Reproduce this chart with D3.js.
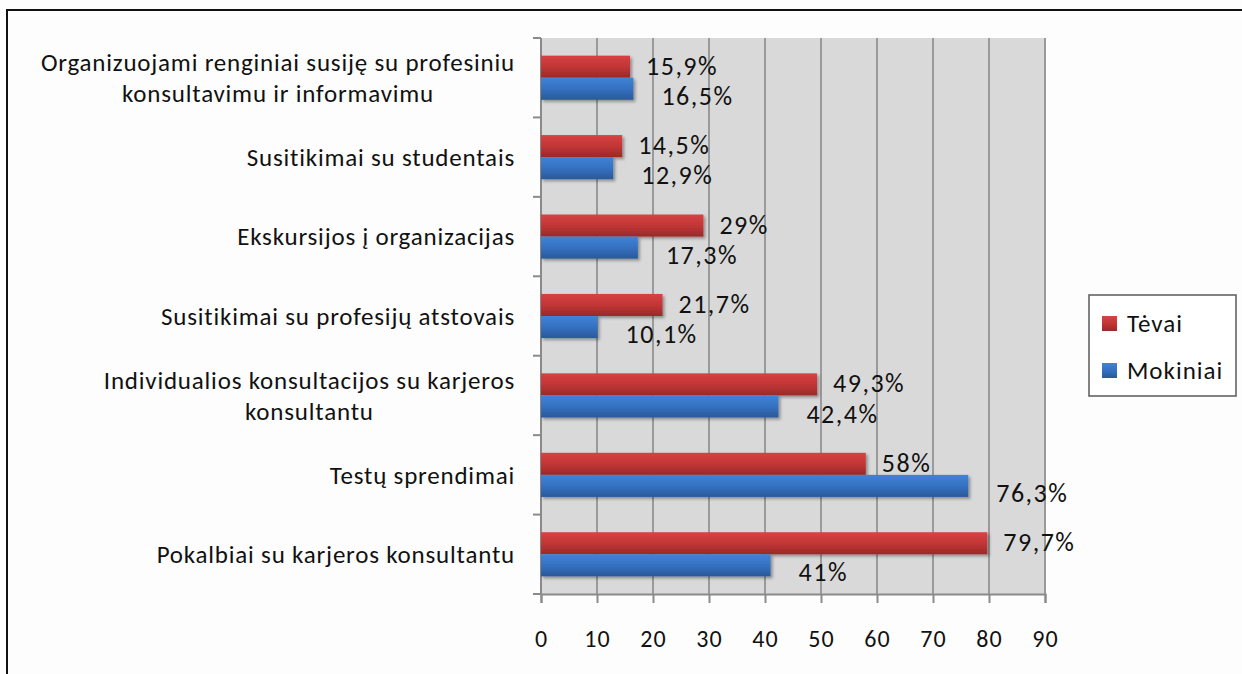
<!DOCTYPE html>
<html>
<head>
<meta charset="utf-8">
<script src="https://cdn.jsdelivr.net/npm/d3@7"></script>
<style>
 body { margin: 0; background: #fdfdfd; }
 svg { display: block; }
 text { font-family: Carlito, Lato, 'Open Sans', sans-serif; fill: #111; }
</style>
</head>
<body>
<svg width="1242" height="674"></svg>
<script>

// Data.

var categories = [
 'Organizuojami renginiai susiję su profesiniu|konsultavimu ir informavimu',
 'Susitikimai su studentais',
 'Ekskursijos į organizacijas',
 'Susitikimai su profesijų atstovais',
 'Individualios konsultacijos su karjeros|konsultantu',
 'Testų sprendimai',
 'Pokalbiai su karjeros konsultantu'
];
var seriesNames = ['Tėvai', 'Mokiniai'];
var tevai = [15.9, 14.5, 29, 21.7, 49.3, 58, 79.7];
var mokiniai = [16.5, 12.9, 17.3, 10.1, 42.4, 76.3, 41];
var xTicks = [0, 10, 20, 30, 40, 50, 60, 70, 80, 90];

var data = categories.map(function(c, i) {
 return {cat: c, values: [{key: 'Tėvai', v: tevai[i]}, {key: 'Mokiniai', v: mokiniai[i]}]};
});

var svg = d3.select('svg');
var plot = {left: 541, right: 1045, top: 38, bottom: 594};

// Scales.

var x = d3.scaleLinear()
.domain([0, 90])
.range([plot.left, plot.right]);

var y = d3.scaleBand()
.domain(categories)
.range([plot.top, plot.bottom]);

var ys = d3.scaleBand()
.domain(seriesNames)
.range([0, y.bandwidth()])
.paddingInner(0)
.paddingOuter(0.8);

var colors = {'Tėvai': ['#d84242', '#c23636', '#9a2929'], 'Mokiniai': ['#4083d6', '#3571c1', '#2a5999']};

// Gradients and shadow.

var defs = svg.append('defs');
seriesNames.forEach(function(s, i) {
 var g = defs.append('linearGradient')
 .attr('id', 'grad' + i)
 .attr('x1', 0).attr('y1', 0).attr('x2', 0).attr('y2', 1);
 g.append('stop').attr('offset', '0%').attr('stop-color', colors[s][0]);
 g.append('stop').attr('offset', '50%').attr('stop-color', colors[s][1]);
 g.append('stop').attr('offset', '100%').attr('stop-color', colors[s][2]);
});
var shadow = defs.append('filter').attr('id', 'shadow')
.attr('x', '-5%').attr('y', '-20%').attr('width', '115%').attr('height', '160%');
shadow.append('feDropShadow')
.attr('dx', 2).attr('dy', 2).attr('stdDeviation', 1.5)
.attr('flood-color', '#000').attr('flood-opacity', 0.35);

// Outer frame.

svg.append('rect')
.attr('x', 7).attr('y', 10)
.attr('width', 1260).attr('height', 700)
.attr('fill', 'none')
.attr('stroke', '#111')
.attr('stroke-width', 2);

// Plot background and gridlines.

svg.append('rect')
.attr('x', plot.left).attr('y', plot.top)
.attr('width', plot.right - plot.left)
.attr('height', plot.bottom - plot.top)
.attr('fill', '#d9d9d9');

svg.append('g')
.selectAll('line')
.data(xTicks.slice(1))
.enter().append('line')
.attr('x1', function(d) { return x(d); })
.attr('x2', function(d) { return x(d); })
.attr('y1', plot.top)
.attr('y2', plot.bottom)
.attr('stroke', '#9a9a9a')
.attr('stroke-width', 2);

// Axes.

var xAxis = svg.append('g')
.attr('transform', 'translate(0,' + plot.bottom + ')')
.call(d3.axisBottom(x)
.tickValues(xTicks)
.tickSize(9)
.tickPadding(27)
.tickFormat(d3.format('d')));
xAxis.selectAll('path, line').attr('stroke', '#8a8a8a').attr('stroke-width', 2);
xAxis.selectAll('text')
.style('font-size', '24px')
.style('letter-spacing', '1px')
.attr('fill', '#111');

var yAxis = svg.append('g')
.attr('transform', 'translate(' + plot.left + ',0)');
yAxis.append('line')
.attr('y1', plot.top).attr('y2', plot.bottom)
.attr('stroke', '#8a8a8a').attr('stroke-width', 2);
yAxis.selectAll('.tick')
.data(categories.map(function(c) { return y(c); }).concat([plot.bottom]))
.enter().append('line')
.attr('x1', -8).attr('x2', 0)
.attr('y1', function(d) { return d; })
.attr('y2', function(d) { return d; })
.attr('stroke', '#8a8a8a').attr('stroke-width', 2);

// Category labels: block right-aligned, lines centred inside it.

var labelRight = 515;
var lineHeight = 31;
categories.forEach(function(c) {
 var lines = c.split('|');
 var g = svg.append('g');
 var t = g.selectAll('text')
 .data(lines)
 .enter().append('text')
 .style('font-size', '25px')
 .style('letter-spacing', '0.8px')
 .attr('text-anchor', 'middle')
 .attr('dy', '0.35em')
 .attr('y', function(d, i) { return y(c) + y.bandwidth() / 2 + (i - (lines.length - 1) / 2) * lineHeight; })
 .text(function(d) { return d; });
 var w = 0;
 t.each(function() { w = Math.max(w, this.getComputedTextLength()); });
 t.attr('x', labelRight - w / 2);
});

// Draw the bars.

var groups = svg.append('g')
.selectAll('g')
.data(data)
.enter().append('g')
.attr('transform', function(d) { return 'translate(0,' + y(d.cat) + ')'; });

groups.selectAll('rect')
.data(function(d) { return d.values; })
.enter().append('rect')
.attr('x', x(0))
.attr('y', function(d) { return ys(d.key); })
.attr('width', function(d) { return x(d.v) - x(0); })
.attr('height', ys.bandwidth())
.attr('fill', function(d) { return 'url(#grad' + seriesNames.indexOf(d.key) + ')'; })
.attr('filter', 'url(#shadow)');

// Value labels.

groups.selectAll('text')
.data(function(d) { return d.values; })
.enter().append('text')
.style('font-size', '26px')
.style('letter-spacing', '1.5px')
.attr('fill', '#222')
.attr('x', function(d) { return x(d.v) + (d.key === 'Tėvai' ? 16 : 28); })
.attr('y', function(d) { return ys(d.key) + ys.bandwidth() / 2 + (d.key === 'Tėvai' ? -1 : 7); })
.attr('dy', '0.35em')
.text(function(d) { return String(d.v).replace('.', ',') + '%'; });

// Legend.

var legend = svg.append('g').attr('transform', 'translate(1089,295)');
legend.append('rect')
.attr('width', 147).attr('height', 101)
.attr('fill', '#fff')
.attr('stroke', '#5a5a5a')
.attr('stroke-width', 1.5);

var items = legend.selectAll('g')
.data(seriesNames)
.enter().append('g')
.attr('transform', function(d, i) { return 'translate(0,' + (28 + i * 47) + ')'; });
items.append('rect')
.attr('x', 13).attr('y', -7)
.attr('width', 15).attr('height', 15)
.attr('fill', function(d, i) { return 'url(#grad' + i + ')'; });
items.append('text')
.attr('x', 38)
.attr('dy', '0.35em')
.style('font-size', '25px')
.style('letter-spacing', '1px')
.text(function(d) { return d; });

</script>
</body>
</html>
